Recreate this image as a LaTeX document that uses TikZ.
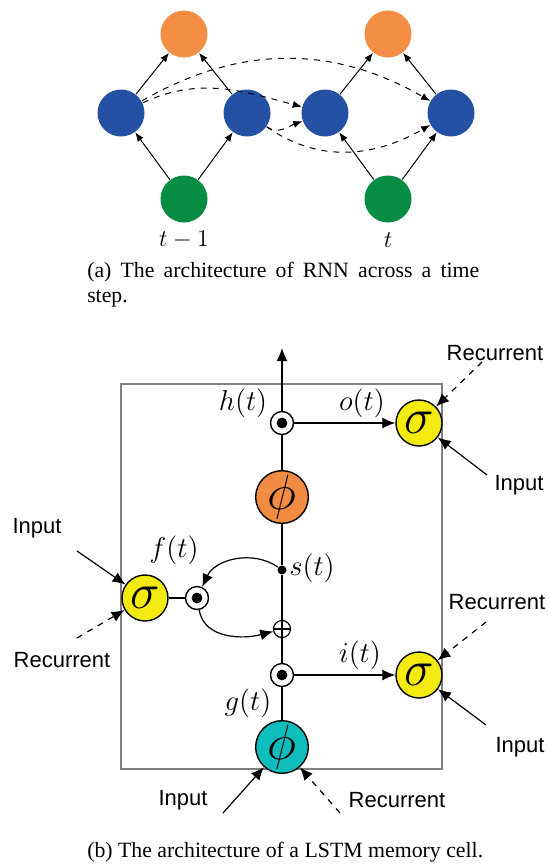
\documentclass[tikz,border=0pt]{standalone}
\usepackage{fontspec}
\setmainfont{Liberation Serif}
\setsansfont{Liberation Sans}
\usetikzlibrary{arrows.meta}

\definecolor{outorange}{HTML}{F58E45}
\definecolor{hidblue}{HTML}{2451A3}
\definecolor{ingreen}{HTML}{078C44}
\definecolor{gateyellow}{HTML}{F2EA11}
\definecolor{phiorange}{HTML}{F28C42}
\definecolor{phicyan}{HTML}{10BDBD}

\tikzset{
  unit/.style={circle, minimum size=23.5pt, inner sep=0pt},
  rnnedge/.style={-{Latex[length=4.5pt,width=3.6pt]}, line width=0.5pt},
  gate/.style={circle, draw, line width=0.7pt, minimum size=23pt, inner sep=0pt,
    font=\fontsize{23}{23}\selectfont},
  mult/.style={circle, draw, fill=white, line width=0.7pt, minimum size=11.5pt, inner sep=0pt,
    path picture={\fill[black] (path picture bounding box.center) circle (2.7pt);}},
  sumnode/.style={circle, draw, fill=white, line width=0.6pt, minimum size=8.5pt, inner sep=0pt,
    path picture={\draw[black] (path picture bounding box.north) -- (path picture bounding box.south)
      (path picture bounding box.west) -- (path picture bounding box.east);}},
  lab/.style={font=\Large},
  side/.style={font=\sffamily\fontsize{11}{13}\selectfont},
  captext/.style={font=\fontsize{10.9}{12.6}\selectfont, anchor=west}
}

\begin{document}
\begin{tikzpicture}[x=0.5pt, y=-0.5pt, >={Latex[length=6.5pt,width=5.5pt]}, line width=0.6pt]
    \useasboundingbox (0,0) rectangle (549,867);

    % (a) RNN across a time step
    \node[unit, fill=outorange] (o1) at (184,34) {};
    \node[unit, fill=outorange] (o2) at (388,34) {};
    \node[unit, fill=hidblue] (b1) at (121,113) {};
    \node[unit, fill=hidblue] (b2) at (247,113) {};
    \node[unit, fill=hidblue] (b3) at (325,113) {};
    \node[unit, fill=hidblue] (b4) at (451,113) {};
    \node[unit, fill=ingreen] (g1) at (184,199) {};
    \node[unit, fill=ingreen] (g2) at (388,199) {};
    \node[font=\large] (tprev) at (184,240) {$t-1$};
    \node[font=\large] (tnow) at (388,240) {$t$};

    \draw[rnnedge] (g1) -- (b1);
    \draw[rnnedge] (g1) -- (b2);
    \draw[rnnedge] (g2) -- (b3);
    \draw[rnnedge] (g2) -- (b4);
    \draw[rnnedge] (b1) -- (o1);
    \draw[rnnedge] (b2) -- (o1);
    \draw[rnnedge] (b3) -- (o2);
    \draw[rnnedge] (b4) -- (o2);
    \draw[rnnedge, dashed] (b1) to[out=25, in=165] (b3);
    \draw[rnnedge, dashed] (b1) to[out=30, in=150] (b4);
    \draw[rnnedge, dashed] (b2) to[out=-35, in=200] (b3);
    \draw[rnnedge, dashed] (b2) to[out=-35, in=210] (b4);

    \node[captext, text width=196pt, align=justify] (capa) at (80,285)
        {(a) The architecture of RNN across a time\linebreak step.};

    % (b) LSTM memory cell
    \draw[gray, line width=0.6pt] (121,384) rectangle (442,769);

    \node[mult] (hnode) at (282,423) {};
    \node[gate, fill=phiorange] (phiO) at (282,497) {$\phi$};
    \node[circle, fill, minimum size=4.5pt, inner sep=0pt] (sdot) at (282,570) {};
    \node[sumnode] (plus) at (282,629) {};
    \node[mult] (inode) at (282,675) {};
    \node[gate, fill=phicyan] (phiC) at (282,747) {$\phi$};
    \node[gate, fill=gateyellow] (osig) at (419,423) {$\sigma$};
    \node[gate, fill=gateyellow] (isig) at (419,675) {$\sigma$};
    \node[gate, fill=gateyellow] (fsig) at (145,598) {$\sigma$};
    \node[mult] (fnode) at (197,598) {};
    \coordinate (hout) at (282,348);

    \node[lab] (hlab) at (243,403) {$h(t)$};
    \node[lab] (olab) at (362,403) {$o(t)$};
    \node[lab] (slab) at (312,568) {$s(t)$};
    \node[lab] (flab) at (174,550) {$f(t)$};
    \node[lab] (ilab) at (360,655) {$i(t)$};
    \node[lab] (glab) at (248,703) {$g(t)$};

    \draw (phiC) -- (inode) -- (plus) -- (sdot) -- (phiO) -- (hnode);
    \draw[->] (hnode) -- (hout);
    \draw[->] (hnode) -- (osig);
    \draw[->] (inode) -- (isig);
    \draw (fsig) -- (fnode);
    \draw[->] (sdot) to[out=145, in=65] (fnode);
    \draw[->] (fnode) to[out=-80, in=195] (plus);

    % gate inputs
    \node[side] (orec) at (495,353) {Recurrent};
    \node[side] (oin) at (519,485) {Input};
    \node[side] (irec) at (497,602) {Recurrent};
    \node[side] (iin) at (520,747) {Input};
    \node[side] (fin) at (37,528) {Input};
    \node[side] (frec) at (62,660) {Recurrent};
    \node[side] (gin) at (183,800) {Input};
    \node[side] (grec) at (397,800) {Recurrent};
    \coordinate (orecs) at (482,362);
    \coordinate (oins) at (487,475);
    \coordinate (irecs) at (486,622);
    \coordinate (iins) at (486,725);
    \coordinate (fins) at (77,551);
    \coordinate (frecs) at (77,638);
    \coordinate (gins) at (223,813);
    \coordinate (grecs) at (340,813);

    \draw[->, dashed] (orecs) -- (osig);
    \draw[->] (oins) -- (osig);
    \draw[->, dashed] (irecs) -- (isig);
    \draw[->] (iins) -- (isig);
    \draw[->] (fins) -- (fsig);
    \draw[->, dashed] (frecs) -- (fsig);
    \draw[->] (gins) -- (phiC);
    \draw[->, dashed] (grecs) -- (phiC);

    \node[captext] (capb) at (80,852) {(b) The architecture of a LSTM memory cell.};
\end{tikzpicture}
\end{document}
